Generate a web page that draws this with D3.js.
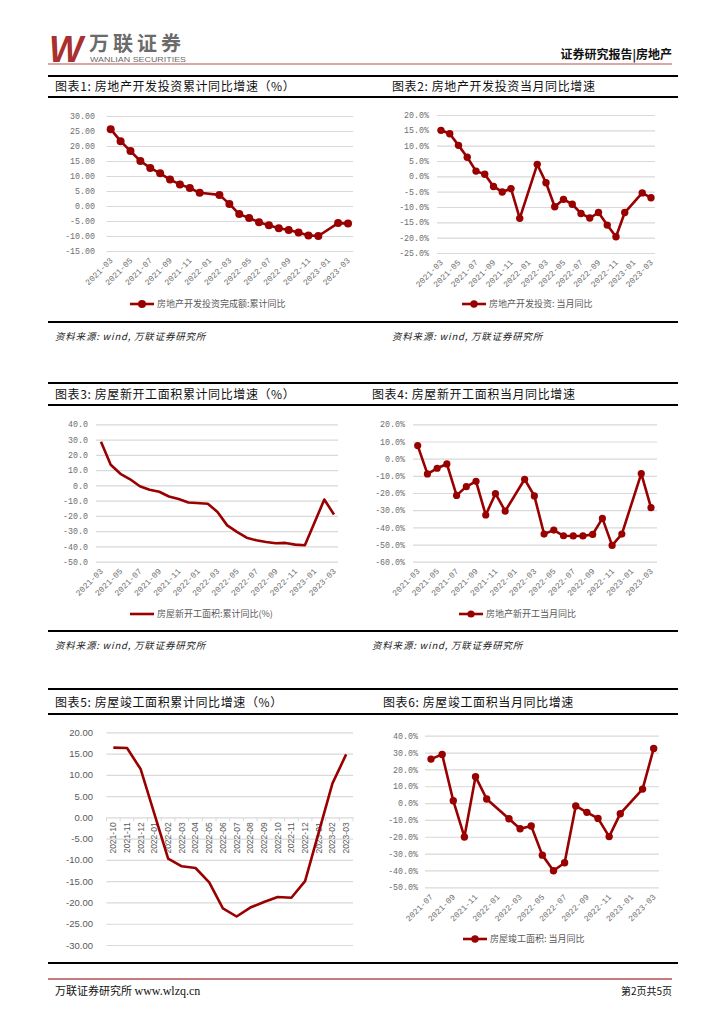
<!DOCTYPE html>
<html>
<head>
<meta charset="utf-8">
<script src="https://cdn.jsdelivr.net/npm/d3@7"></script>
<style>
  body { margin: 0; background: #fff; }
  svg { display: block; }
</style>
</head>
<body>
<div id="page"></div>
<script>
// ---- data ----
const monthsA = ["2021-03","2021-04","2021-05","2021-06","2021-07","2021-08","2021-09","2021-10","2021-11","2021-12",
                 "2022-01","2022-02","2022-03","2022-04","2022-05","2022-06","2022-07","2022-08","2022-09","2022-10",
                 "2022-11","2022-12","2023-01","2023-02","2023-03"];
const monthsB = ["2021-10","2021-11","2021-12","2022-01","2022-02","2022-03","2022-04","2022-05","2022-06",
                 "2022-07","2022-08","2022-09","2022-10","2022-11","2022-12","2023-01","2023-02","2023-03"];
const monthsC = ["2021-07","2021-08","2021-09","2021-10","2021-11","2021-12","2022-01","2022-02","2022-03","2022-04",
                 "2022-05","2022-06","2022-07","2022-08","2022-09","2022-10","2022-11","2022-12","2023-01","2023-02","2023-03"];

// 房地产开发投资 累计同比
const invCum = [25.6,21.6,18.3,15.0,12.7,10.9,8.8,7.2,6.0,4.4,null,3.7,0.7,-2.7,-4.0,-5.4,-6.4,-7.4,-8.0,-8.8,-9.8,-10.0,null,-5.7,-5.8];
// 房地产开发投资 当月同比
const invMonth = [15.0,13.9,10.1,6.2,1.7,0.7,-3.3,-5.1,-4.0,-13.7,null,3.9,-2.1,-9.9,-7.5,-9.1,-12.1,-13.6,-11.8,-15.9,-19.7,-11.8,null,-5.4,-7.0];
// 房屋新开工面积 累计同比
const startCum = [28.6,13.5,7.6,4.0,-0.6,-2.9,-4.2,-7.3,-8.9,-11.2,null,-12.0,-17.4,-26.2,-30.5,-34.3,-36.0,-37.1,-37.9,-37.7,-38.8,-39.2,null,-9.3,-19.1];
// 房屋新开工面积 当月同比
const startMonth = [7.6,-8.9,-5.6,-3.1,-21.4,-16.3,-13.2,-32.8,-20.4,-30.5,null,-12.0,-21.7,-43.9,-41.6,-44.9,-45.0,-45.0,-44.1,-34.8,-50.5,-43.9,null,-8.7,-28.5];
// 房屋竣工面积 累计同比
const compCum = [16.4,16.3,11.3,null,-9.7,-11.5,-11.9,-15.3,-21.4,-23.3,-21.2,-19.9,-18.7,-18.9,-15.0,null,8.0,14.8];
// 房屋竣工面积 当月同比
const compMonth = [26.1,28.9,1.4,-20.1,15.7,2.4,null,-9.3,-15.2,-13.6,-30.9,-40.2,-35.4,-1.7,-5.5,-9.1,-19.9,-6.3,null,8.3,32.4];

const RED = "#990000";
const CJK = "'Noto Sans CJK SC', sans-serif";
const MONO = "'Liberation Mono', 'DejaVu Sans Mono', monospace";

const svg = d3.select("#page").append("svg")
  .attr("width", 724).attr("height", 1024)
  .style("font-family", CJK);

// ---- page header ----
svg.append("text").attr("x", 49).attr("y", 62)
  .style("font-family", "'Liberation Sans', sans-serif")
  .style("font-weight", "900").style("font-style", "italic")
  .style("font-size", "36px").style("fill", "#a8302e").text("W");

svg.append("text").attr("x", 89).attr("y", 51)
  .style("font-weight", "700").style("font-size", "20px")
  .style("letter-spacing", "4px").style("fill", "#6b6b6b").text("万联证券");

svg.append("text").attr("x", 90).attr("y", 62)
  .attr("textLength", 96).attr("lengthAdjust", "spacingAndGlyphs")
  .style("font-family", "'Liberation Sans', sans-serif")
  .style("font-size", "7.5px").style("fill", "#6b6b6b").text("WANLIAN SECURITIES");

svg.append("text").attr("x", 672).attr("y", 59).attr("text-anchor", "end")
  .style("font-weight", "700").style("font-size", "12px").style("fill", "#111")
  .text("证券研究报告|房地产");

svg.append("line").attr("x1", 48).attr("x2", 672).attr("y1", 64).attr("y2", 64)
  .attr("stroke", "#b4514f").attr("stroke-width", 1.2);

// black rules
[76, 97, 322, 383, 405, 631, 689, 714, 963].forEach(y => {
  svg.append("line").attr("x1", 48).attr("x2", 678).attr("y1", y).attr("y2", y)
    .attr("stroke", "#000").attr("stroke-width", 2);
});

// titles
const titles = [
  { x: 55, y: 91, t: "图表1: 房地产开发投资累计同比增速（%）" },
  { x: 392, y: 91, t: "图表2: 房地产开发投资当月同比增速" },
  { x: 55, y: 399, t: "图表3: 房屋新开工面积累计同比增速（%）" },
  { x: 372, y: 399, t: "图表4: 房屋新开工面积当月同比增速" },
  { x: 55, y: 707, t: "图表5: 房屋竣工面积累计同比增速（%）" },
  { x: 383, y: 707, t: "图表6: 房屋竣工面积当月同比增速" }
];
svg.selectAll("text.title").data(titles).join("text")
  .attr("class", "title").attr("x", d => d.x).attr("y", d => d.y)
  .attr("xml:space", "preserve")
  .style("font-size", "12px").style("letter-spacing", "0.6px").style("fill", "#111")
  .text(d => d.t);

// sources
const sources = [{ x: 55, y: 340 }, { x: 392, y: 340 }, { x: 55, y: 649 }, { x: 372, y: 649 }];
svg.selectAll("text.src").data(sources).join("text")
  .attr("class", "src").attr("x", d => d.x).attr("y", d => d.y)
  .style("font-size", "9.5px").style("font-style", "italic")
  .style("letter-spacing", "0.8px").style("fill", "#222")
  .text("资料来源: wind, 万联证券研究所");

// footer
svg.append("line").attr("x1", 48).attr("x2", 672).attr("y1", 979).attr("y2", 979)
  .attr("stroke", "#b4514f").attr("stroke-width", 1.5);
svg.append("text").attr("x", 55).attr("y", 995)
  .style("font-size", "11px").style("fill", "#111")
  .text("万联证券研究所 ")
  .append("tspan").style("font-family", "'Liberation Serif', serif").style("font-size", "12px").text("www.wlzq.cn");
svg.append("text").attr("x", 672).attr("y", 995).attr("text-anchor", "end")
  .style("font-size", "10px").style("fill", "#111").text("第2页共5页");

// ---- generic line chart (charts 1-4, 6) ----
function lineChart(o) {
  const g = svg.append("g");
  const y = d3.scaleLinear().domain(o.yDom).range([o.yBot, o.yTop]);
  const x = d3.scalePoint().domain(o.cats).range([o.x0, o.x1]);
  const nT = Math.round((o.yDom[1] - o.yDom[0]) / o.step);
  const yTicks = d3.range(nT + 1).map(i => o.yDom[0] + i * o.step);

  const ya = g.append("g").attr("transform", `translate(${o.gridL},0)`)
    .call(d3.axisLeft(y).tickValues(yTicks).tickSize(-(o.gridR - o.gridL))
      .tickPadding(o.gridL - o.labelX).tickFormat(o.fmt));
  ya.select(".domain").remove();
  ya.selectAll(".tick line").attr("stroke", "#d9d9d9").attr("stroke-width", 1.2);
  ya.selectAll(".tick text").style("font-family", MONO).style("font-size", "8.3px").style("fill", "#6e6e6e");

  const labels = o.cats.filter((d, i) => i % 2 === 0);
  const xa = g.append("g").attr("transform", `translate(0,${o.yBot + 8})`)
    .call(d3.axisBottom(x).tickValues(labels).tickSize(0));
  xa.select(".domain").remove();
  xa.selectAll(".tick text")
    .attr("x", 0).attr("y", 0).attr("dy", "0.35em")
    .attr("text-anchor", "end").attr("transform", "rotate(-45)")
    .style("font-family", MONO).style("font-size", "8.3px").style("fill", "#6e6e6e");

  const pts = o.cats.map((c, i) => ({ c, v: o.vals[i] })).filter(d => d.v != null);
  const line = d3.line().x(d => x(d.c)).y(d => y(d.v));
  g.append("path").datum(pts).attr("d", line)
    .attr("fill", "none").attr("stroke", RED).attr("stroke-width", 2.6)
    .attr("stroke-linejoin", "round");
  if (o.r) {
    g.selectAll("circle.pt").data(pts).join("circle").attr("class", "pt")
      .attr("cx", d => x(d.c)).attr("cy", d => y(d.v)).attr("r", o.r).attr("fill", RED);
  }

  // legend
  const lg = g.append("g").attr("transform", `translate(${o.legend.x},${o.legend.y})`);
  lg.append("line").attr("x1", 0).attr("x2", 24).attr("stroke", RED).attr("stroke-width", 2.6);
  if (o.r) lg.append("circle").attr("cx", 12).attr("r", o.r).attr("fill", RED);
  lg.append("text").attr("x", 27).attr("dy", "0.35em").attr("xml:space", "preserve")
    .style("font-size", "9px").style("fill", "#595959").text(o.legend.text);
}

const f2 = d => d.toFixed(2);
const f1 = d => d.toFixed(1);
const p1 = d => d.toFixed(1) + "%";

lineChart({ cats: monthsA, vals: invCum, yDom: [-15, 30], step: 5, yTop: 116, yBot: 251,
  x0: 110.7, x1: 348, gridL: 106.5, gridR: 353, labelX: 95, fmt: f2, r: 4,
  legend: { x: 130, y: 304, text: "房地产开发投资完成额:累计同比" } });

lineChart({ cats: monthsA, vals: invMonth, yDom: [-25, 20], step: 5, yTop: 115, yBot: 253,
  x0: 441, x1: 651, gridL: 437, gridR: 655, labelX: 429, fmt: p1, r: 3.7,
  legend: { x: 462, y: 304, text: "房地产开发投资: 当月同比" } });

lineChart({ cats: monthsA, vals: startCum, yDom: [-50, 40], step: 10, yTop: 424.3, yBot: 561.7,
  x0: 101, x1: 334, gridL: 96, gridR: 338, labelX: 88, fmt: f1, r: 0,
  legend: { x: 130, y: 614, text: "房屋新开工面积:累计同比(%)" } });

lineChart({ cats: monthsA, vals: startMonth, yDom: [-60, 20], step: 10, yTop: 424.3, yBot: 561.7,
  x0: 417.7, x1: 651, gridL: 413, gridR: 657, labelX: 405, fmt: p1, r: 3.6,
  legend: { x: 459, y: 614, text: "房地产新开工当月同比" } });

lineChart({ cats: monthsC, vals: compMonth, yDom: [-50, 40], step: 10, yTop: 735.7, yBot: 887.3,
  x0: 431, x1: 653.7, gridL: 425, gridR: 659, labelX: 418, fmt: p1, r: 3.7,
  legend: { x: 463, y: 939, text: "房屋竣工面积: 当月同比" } });

// ---- chart 5: 房屋竣工面积累计同比 (axis at zero, vertical labels) ----
(function () {
  const g = svg.append("g");
  const gridL = 106.5, gridR = 353;
  const y = d3.scaleLinear().domain([-30, 20]).range([945, 732.3]);
  const xb = d3.scaleBand().domain(monthsB).range([gridL, gridR]).padding(0);
  const cx = c => xb(c) + xb.bandwidth() / 2;
  const yTicks = d3.range(11).map(i => -30 + i * 5);

  const ya = g.append("g").attr("transform", `translate(${gridL},0)`)
    .call(d3.axisLeft(y).tickValues(yTicks).tickSize(-(gridR - gridL))
      .tickPadding(gridL - 93).tickFormat(f2));
  ya.select(".domain").remove();
  ya.selectAll(".tick line").attr("stroke", "#d9d9d9").attr("stroke-width", 1.2);
  ya.selectAll(".tick text").style("font-family", "'Liberation Sans', sans-serif")
    .style("font-size", "9.5px").style("fill", "#595959");

  const y0 = y(0);
  // tick marks at category boundaries
  const bounds = monthsB.map(c => xb(c)).concat([gridR]);
  g.selectAll("line.bt").data(bounds).join("line").attr("class", "bt")
    .attr("x1", d => d).attr("x2", d => d).attr("y1", y0).attr("y2", y0 + 4)
    .attr("stroke", "#d9d9d9").attr("stroke-width", 1);

  g.selectAll("text.xl").data(monthsB).join("text").attr("class", "xl")
    .attr("transform", d => `translate(${cx(d)},${y0 + 5}) rotate(-90)`)
    .attr("text-anchor", "end").attr("dy", "0.35em")
    .style("font-family", "'Liberation Sans', sans-serif")
    .style("font-size", "8.5px").style("fill", "#595959").text(d => d);

  const pts = monthsB.map((c, i) => ({ c, v: compCum[i] })).filter(d => d.v != null);
  g.append("path").datum(pts)
    .attr("d", d3.line().x(d => cx(d.c)).y(d => y(d.v)))
    .attr("fill", "none").attr("stroke", RED).attr("stroke-width", 2.6)
    .attr("stroke-linejoin", "round");
})();
</script>
</body>
</html>
